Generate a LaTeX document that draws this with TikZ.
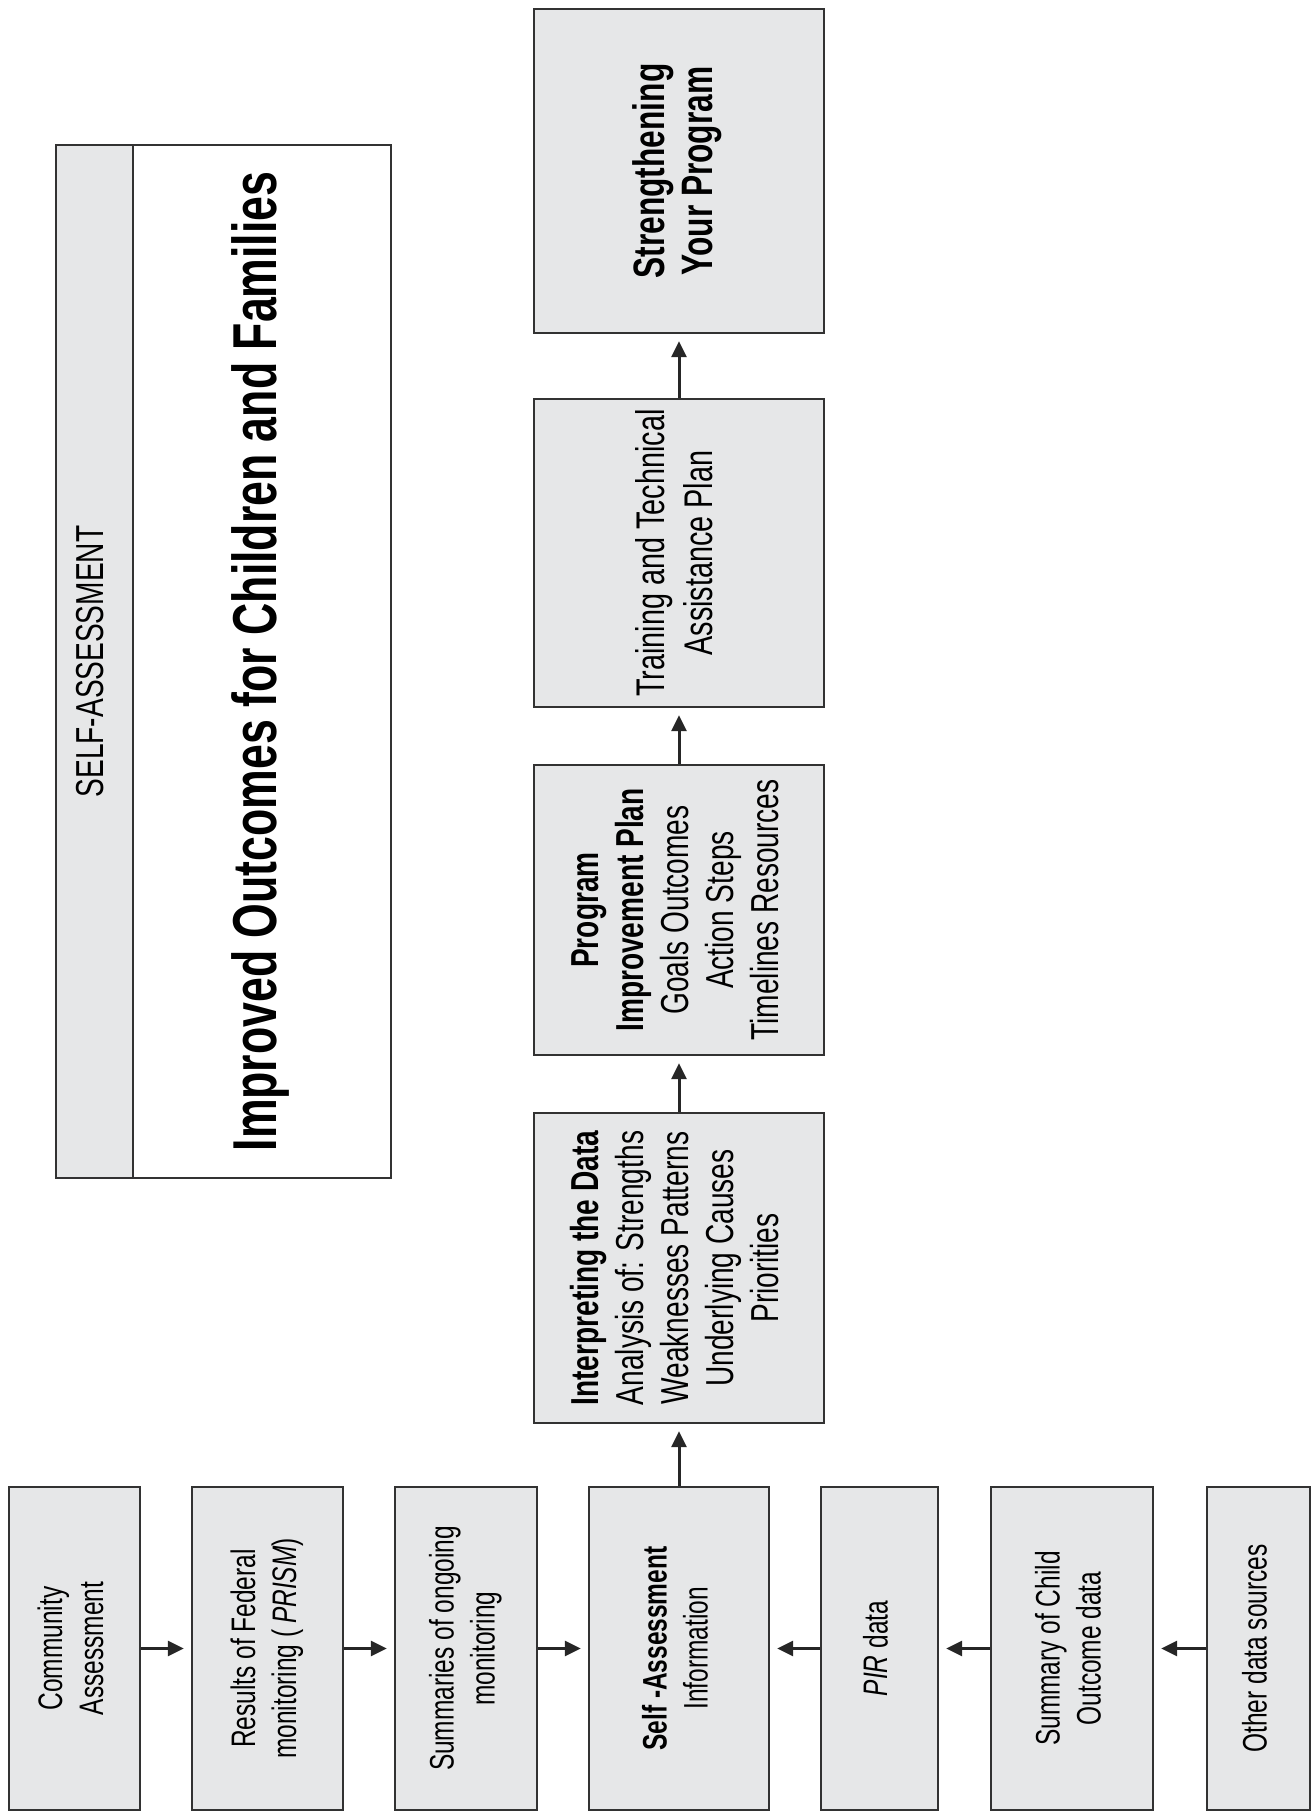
\documentclass[tikz,border=0pt]{standalone}
\usepackage{fontspec}
\setmainfont{Liberation Sans}[FakeStretch=0.72]
\usepackage{graphicx}
\usetikzlibrary{arrows.meta, positioning}
\definecolor{boxfill}{RGB}{230,231,232}
\definecolor{edgegray}{RGB}{50,50,50}
\newcommand{\uptext}[1]{\rotatebox{90}{\begin{tabular}{@{}c@{}}#1\end{tabular}}}

\begin{document}
\begin{tikzpicture}[x=0.5pt, y=-0.5pt,
    stage/.style={draw=edgegray, fill=boxfill, line width=1.2pt, inner sep=0pt,
                  minimum width=145pt, font=\fontsize{19.5}{22.5}\selectfont},
    source/.style={stage, minimum height=161.5pt, font=\fontsize{17}{20.5}\selectfont},
    flow/.style={-{Triangle[length=8pt,width=7.5pt]}, line width=1.5pt,
                 draw=black!85, shorten >=3.5pt},
]
  \useasboundingbox (0,0) rectangle (1312,1818);

  \node[stage, minimum width=38.5pt, minimum height=516.5pt] (strip) at (94.5,661.5)
       {\uptext{SELF-ASSESSMENT}};
  \node[stage, fill=white, minimum width=129pt, minimum height=516.5pt,
        font=\fontsize{31}{35}\selectfont\bfseries] (goal) at (262,661.5)
       {\uptext{Improved Outcomes for Children and Families}};

  \node[stage, minimum height=162pt, font=\fontsize{22}{24}\selectfont\bfseries]
       (strength) at (679,171) {\uptext{Strengthening\\Your Program}};
  \node[stage, minimum height=154pt, font=\fontsize{20}{24}\selectfont] (training) at (679,553)
       {\uptext{Training and Technical\\Assistance Plan}};
  \node[stage, minimum height=145pt] (pip) at (679,910)
       {\uptext{\textbf{Program}\\\textbf{Improvement Plan}\\Goals Outcomes\\Action Steps\\Timelines Resources}};
  \node[stage, minimum height=155pt] (interp) at (679,1268)
       {\uptext{\textbf{Interpreting the Data}\\Analysis of: Strengths\\Weaknesses Patterns\\Underlying Causes\\Priorities}};

  \node[source, minimum width=65.5pt] (community) at (74.5,1648.5)
       {\uptext{Community\\Assessment}};
  \node[source, minimum width=75.5pt] (federal) at (267.5,1648.5)
       {\uptext{Results of Federal\\monitoring (\,\textit{PRISM})}};
  \node[source, minimum width=71pt] (ongoing) at (466,1648.5)
       {\uptext{Summaries of ongoing\\monitoring}};
  \node[source, minimum width=90pt] (selfinfo) at (679,1648.5)
       {\uptext{\textbf{Self -Assessment}\\Information}};
  \node[source, minimum width=58.5pt] (pir) at (879.5,1648.5)
       {\uptext{\textit{PIR} data}};
  \node[source, minimum width=81pt] (child) at (1072,1648.5)
       {\uptext{Summary of Child\\Outcome data}};
  \node[source, minimum width=51.5pt] (other) at (1258.5,1648.5)
       {\uptext{Other data sources}};

  \draw[flow] (community) -- (federal);
  \draw[flow] (federal) -- (ongoing);
  \draw[flow] (ongoing) -- (selfinfo);
  \draw[flow] (pir) -- (selfinfo);
  \draw[flow] (child) -- (pir);
  \draw[flow] (other) -- (child);

  \draw[flow] (selfinfo) -- (interp);
  \draw[flow] (interp) -- (pip);
  \draw[flow] (pip) -- (training);
  \draw[flow] (training) -- (strength);
\end{tikzpicture}
\end{document}
